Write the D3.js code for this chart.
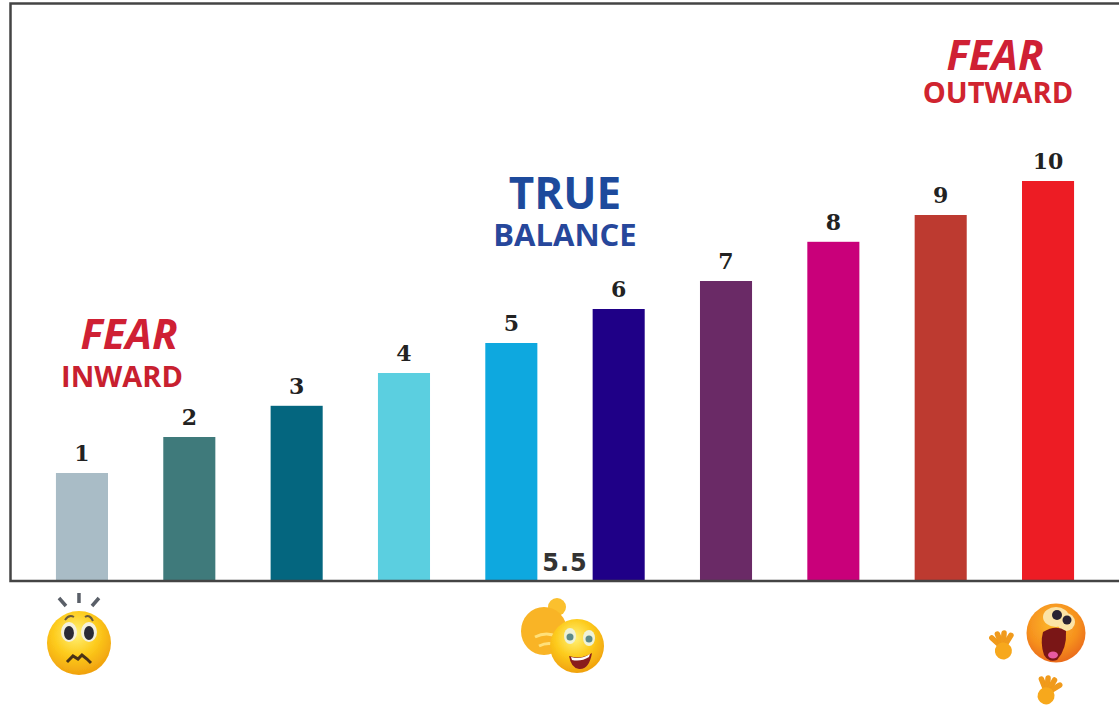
<!DOCTYPE html>
<html>
<head>
<meta charset="utf-8">
<script src="https://cdn.jsdelivr.net/npm/d3@7"></script>
<style>
  html, body { margin: 0; padding: 0; background: #fff; }
  svg { display: block; }
  text { text-anchor: middle; }
  .num { font-family: "DejaVu Serif", serif; font-weight: 700; font-size: 22px; fill: #222; }
  .head { font-family: "Open Sans", sans-serif; font-weight: 700; }
</style>
</head>
<body>
<div id="chart"></div>
<script>
// data
const labels = ["1", "2", "3", "4", "5", "6", "7", "8", "9", "10"];
const values = [2.7, 3.6, 4.38, 5.2, 5.95, 6.8, 7.5, 8.48, 9.15, 10];
const colors = ["#a9bcc6", "#3f7a7b", "#04667f", "#5bcfe0", "#0ea8df", "#1f0087", "#6a2a66", "#c9007a", "#bd3a30", "#ed1c24"];

const width = 1119, height = 711;
const baseY = 581, topY = 181;

const svg = d3.select("#chart").append("svg")
  .attr("width", width)
  .attr("height", height)
  .attr("viewBox", [0, 0, width, height]);

const defs = svg.append("defs");
const addGrad = (id, stops) => {
  const g = defs.append("radialGradient").attr("id", id)
    .attr("cx", "45%").attr("cy", "35%").attr("r", "70%");
  stops.forEach(s => g.append("stop").attr("offset", s[0]).attr("stop-color", s[1]));
};
addGrad("faceYellow", [["0%", "#fff27a"], ["50%", "#fdcb1c"], ["100%", "#ee9a0c"]]);
addGrad("faceOrange", [["0%", "#fdb92a"], ["60%", "#f6911e"], ["100%", "#e8641a"]]);
defs.append("filter").attr("id", "soft")
  .append("feGaussianBlur").attr("stdDeviation", 0.7);

const x = d3.scaleBand().domain(labels).range([28.3, 1101.7]).paddingInner(0.515).paddingOuter(0.2575);
const y = d3.scaleLinear().domain([0, 10]).range([baseY, topY]);
const cx = l => x(l) + x.bandwidth() / 2;

// bars
svg.append("g").selectAll("rect")
  .data(labels)
  .enter()
  .append("rect")
  .attr("x", d => x(d))
  .attr("y", (d, i) => y(values[i]))
  .attr("width", x.bandwidth())
  .attr("height", (d, i) => baseY - y(values[i]))
  .attr("fill", (d, i) => colors[i]);

// number above each bar
svg.append("g").selectAll("text")
  .data(labels)
  .enter()
  .append("text")
  .attr("class", "num")
  .attr("x", d => cx(d))
  .attr("y", (d, i) => y(values[i]) - 12)
  .text(d => d);

svg.append("text")
  .attr("x", 565).attr("y", 571)
  .style("font-family", "'DejaVu Sans', sans-serif")
  .style("font-weight", 700).style("font-size", "24px")
  .style("letter-spacing", "1px").attr("fill", "#333")
  .text("5.5");

// frame: open on the right
svg.append("path")
  .attr("d", `M${width},3.5H10.5V${baseY}H${width}`)
  .attr("fill", "none").attr("stroke", "#444").attr("stroke-width", 2.5);

// headings
const heading = (tx, ty, size, color, txt, italic) => svg.append("text")
  .attr("class", "head")
  .attr("x", tx).attr("y", ty)
  .attr("fill", color)
  .style("font-size", size + "px")
  .style("font-style", italic ? "italic" : "normal")
  .text(txt);

heading(129, 349, 42, "#cf2034", "FEAR", true);
heading(122, 387, 29, "#c8202f", "INWARD");
heading(565, 209, 44, "#1d4a9c", "TRUE");
heading(565, 246, 31, "#27479b", "BALANCE");
heading(995, 70, 42, "#cf2034", "FEAR", true);
heading(998, 103, 29, "#d0242f", "OUTWARD");

// emoji, drawn by hand
const eye = (g, ex, ey, rx, ry) => {
  g.append("ellipse").attr("cx", ex).attr("cy", ey).attr("rx", rx).attr("ry", ry).attr("fill", "#f4f0dc");
  g.append("ellipse").attr("cx", ex).attr("cy", ey + 1).attr("rx", rx * 0.62).attr("ry", ry * 0.7).attr("fill", "#2c2b35");
};
const hand = (g, hx, hy, rot) => {
  const h = g.append("g").attr("transform", `translate(${hx},${hy}) rotate(${rot})`);
  [-40, -14, 12, 40].forEach(a => h.append("line")
    .attr("x1", 0).attr("y1", 0)
    .attr("x2", 15 * Math.sin(a * Math.PI / 180))
    .attr("y2", -15 * Math.cos(a * Math.PI / 180))
    .attr("stroke", "#f09a1a").attr("stroke-width", 5.5).attr("stroke-linecap", "round"));
  h.append("circle").attr("r", 8.5).attr("cy", 3).attr("fill", "#f7a81e");
};

// worried face under bar 1
const f1 = svg.append("g").attr("filter", "url(#soft)").attr("transform", `translate(${cx("1") - 3},643)`);
f1.append("circle").attr("r", 32).attr("fill", "url(#faceYellow)");
eye(f1, -10, -11, 8, 10);
eye(f1, 10, -11, 8, 10);
f1.append("path").attr("d", "M-14,-23Q-10,-29 -5,-26M6,-26Q11,-29 14,-22").attr("fill", "none").attr("stroke", "#6b5a3a").attr("stroke-width", 2);
f1.append("path").attr("d", "M-12,19L-6,13L-1,16L3,12L8,16L12,20").attr("fill", "none").attr("stroke", "#4a3318").attr("stroke-width", 3);
f1.append("path").attr("d", "M-20,-45L-13,-37M0,-50V-40M20,-45L13,-37").attr("fill", "none").attr("stroke", "#5a5f68").attr("stroke-width", 3.5);

// thumbs up under the 5.5
const f2 = svg.append("g").attr("filter", "url(#soft)").attr("transform", "translate(577,646)");
f2.append("circle").attr("cx", -20).attr("cy", -39).attr("r", 9).attr("fill", "#fbc02d");
f2.append("ellipse").attr("cx", -33).attr("cy", -15).attr("rx", 23).attr("ry", 24).attr("fill", "#f9b425");
f2.append("path").attr("d", "M-42,-9Q-30,-15 -20,-9M-38,0Q-28,-5 -18,0").attr("fill", "none").attr("stroke", "#ffe07a").attr("stroke-width", 3);
f2.append("circle").attr("r", 27).attr("fill", "url(#faceYellow)");
f2.append("ellipse").attr("cx", -7).attr("cy", -10).attr("rx", 6).attr("ry", 8).attr("fill", "#eef2d8");
f2.append("ellipse").attr("cx", 12).attr("cy", -8).attr("rx", 6).attr("ry", 8).attr("fill", "#eef2d8");
f2.append("circle").attr("cx", -7).attr("cy", -9).attr("r", 3.5).attr("fill", "#5b8a8a");
f2.append("circle").attr("cx", 12).attr("cy", -7).attr("r", 3.5).attr("fill", "#5b8a8a");
f2.append("path").attr("d", "M-8,10Q4,14 15,7Q12,24 2,23Q-6,22 -8,10Z").attr("fill", "#8a1e1e");
f2.append("path").attr("d", "M-6,11Q4,14 13,8L12,11Q4,16 -5,14Z").attr("fill", "#fff");

// screaming face under bar 10
const f3 = svg.append("g").attr("filter", "url(#soft)").attr("transform", "translate(1056,633)");
f3.append("circle").attr("r", 29.5).attr("fill", "url(#faceOrange)");
f3.append("ellipse").attr("cx", 0).attr("cy", -16).attr("rx", 13).attr("ry", 10).attr("fill", "#fbe3a6");
f3.append("ellipse").attr("cx", 10).attr("cy", -11).attr("rx", 9).attr("ry", 9).attr("fill", "#fbe3a6");
f3.append("circle").attr("cx", 1).attr("cy", -18).attr("r", 5).attr("fill", "#2a2430");
f3.append("circle").attr("cx", 11).attr("cy", -13).attr("r", 4.5).attr("fill", "#2a2430");
f3.append("path").attr("d", "M-13,-1Q0,-9 10,-2Q11,16 1,27Q-7,30 -12,22Q-16,10 -13,-1Z").attr("fill", "#7a1512");
f3.append("ellipse").attr("cx", -3).attr("cy", 22).attr("rx", 5).attr("ry", 3.5).attr("fill", "#e85aa0");
hand(svg.append("g").attr("filter", "url(#soft)"), 1003, 648, -8);
hand(svg.append("g").attr("filter", "url(#soft)"), 1047, 693, 18);
</script>
</body>
</html>
